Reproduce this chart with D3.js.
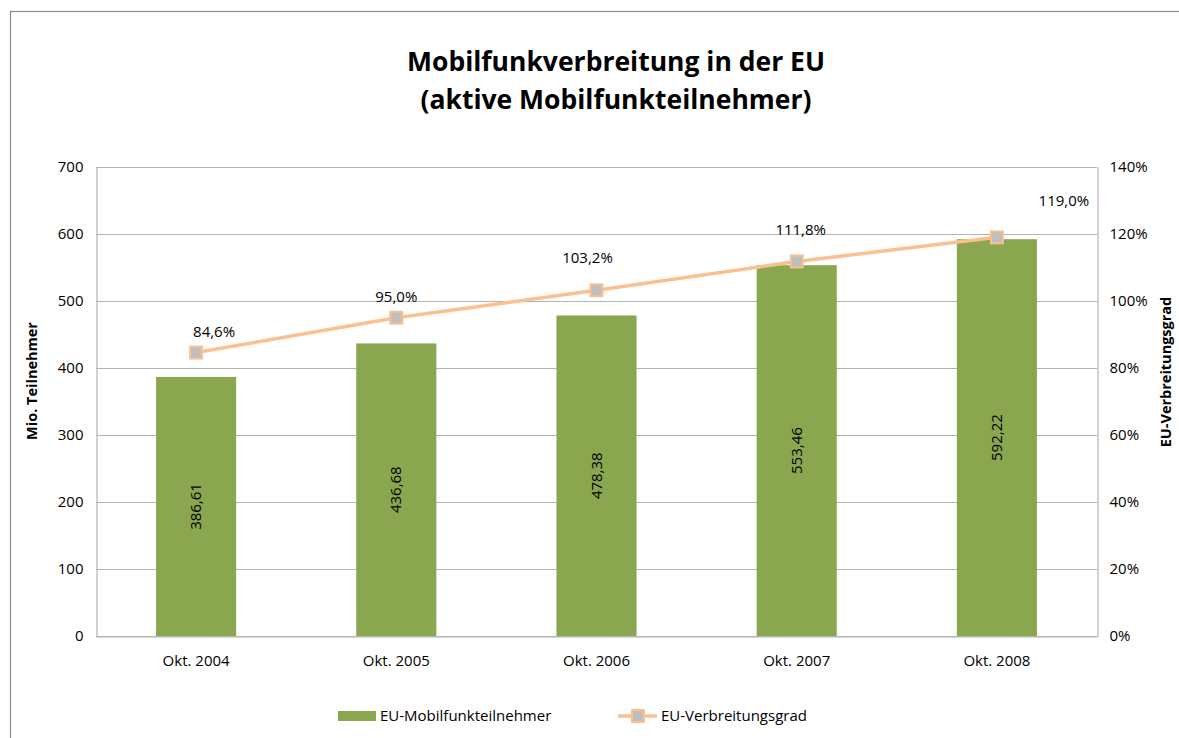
<!DOCTYPE html>
<html><head><meta charset="utf-8">
<script src="https://cdn.jsdelivr.net/npm/d3@7"></script>
<style>
body{margin:0;background:#fff;}
text{font-family:"Open Sans","Lato",sans-serif;fill:#000;}
</style></head>
<body><svg id="c" width="1179" height="738"></svg>
<script>
const categories=["Okt. 2004","Okt. 2005","Okt. 2006","Okt. 2007","Okt. 2008"];
const subscribers=[386.61,436.68,478.38,553.46,592.22];
const penetration=[84.6,95.0,103.2,111.8,119.0];
const leftTicks=[0,100,200,300,400,500,600,700];
const rightTicks=[0,20,40,60,80,100,120,140];
// label placement offsets (style)
const labelDx=[18,0,-9,4,67];
const labelDy=[-21,-21,-33,-32,-37];

const svg=d3.select("#c");
const m={l:96,r:1097,t:167,b:636};
const FS=15;
const fmt=v=>v.toFixed(2).replace(".",",");
const fmtP=v=>v.toFixed(1).replace(".",",")+"%";

svg.append("rect").attr("x",10.5).attr("y",11.5).attr("width",1200).attr("height",800)
  .attr("fill","none").attr("stroke","#8c8c8c").attr("stroke-width",1.2);

const x=d3.scaleBand().domain(categories).range([m.l,m.r]).paddingInner(0.6).paddingOuter(0.3);
const y=d3.scaleLinear().domain([0,700]).range([m.b,m.t]);
const y2=d3.scaleLinear().domain([0,140]).range([m.b,m.t]);

svg.append("g").selectAll("line").data(leftTicks).join("line")
  .attr("x1",m.l).attr("x2",m.r).attr("y1",d=>Math.round(y(d))+0.5).attr("y2",d=>Math.round(y(d))+0.5)
  .attr("stroke","#b3b3b3").attr("stroke-width",1);

const gl=svg.append("g").attr("transform",`translate(${m.l+0.5},0)`)
  .call(d3.axisLeft(y).tickValues(leftTicks).tickSize(0).tickPadding(13));
const gr=svg.append("g").attr("transform",`translate(${m.r+0.5},0)`)
  .call(d3.axisRight(y2).tickValues(rightTicks).tickSize(0).tickPadding(12).tickFormat(d=>d+"%"));
const gb=svg.append("g").attr("transform",`translate(0,${m.b+0.5})`)
  .call(d3.axisBottom(x).tickSize(0).tickPadding(19));
[gl,gr,gb].forEach(g=>{g.select(".domain").attr("stroke","#b3b3b3").attr("stroke-width",1.2);
  g.selectAll("text").attr("font-size",FS).attr("fill","#000").attr("font-family","'Open Sans',sans-serif");});

svg.append("g").selectAll("rect").data(subscribers).join("rect")
  .attr("x",(d,i)=>x(categories[i])).attr("width",x.bandwidth())
  .attr("y",d=>y(d)).attr("height",d=>y(0)-y(d)).attr("fill","#8aa64e");

svg.append("g").selectAll("text").data(subscribers).join("text")
  .attr("transform",(d,i)=>`translate(${x(categories[i])+x.bandwidth()/2+5},${(y(d)+y(0))/2}) rotate(-90)`)
  .attr("text-anchor","middle").attr("font-size",FS).text(d=>fmt(d));

const cx=i=>x(categories[i])+x.bandwidth()/2;
svg.append("path").datum(penetration)
  .attr("d",d3.line().x((d,i)=>cx(i)).y(d=>y2(d)))
  .attr("fill","none").attr("stroke","#fac090").attr("stroke-width",3.5);
svg.append("g").selectAll("rect").data(penetration).join("rect")
  .attr("x",(d,i)=>cx(i)-6).attr("y",d=>y2(d)-6).attr("width",12).attr("height",12)
  .attr("fill","#bfbfbf").attr("stroke","#fac090").attr("stroke-width",2);
svg.append("g").selectAll("text").data(penetration).join("text")
  .attr("x",(d,i)=>cx(i)+labelDx[i]).attr("y",(d,i)=>y2(d)+labelDy[i]).attr("dy","0.35em")
  .attr("text-anchor","middle").attr("font-size",FS).text(d=>fmtP(d));

svg.append("text").attr("x",616).attr("y",71).attr("text-anchor","middle")
  .attr("font-size",26.5).attr("font-weight","bold").text("Mobilfunkverbreitung in der EU");
svg.append("text").attr("x",616).attr("y",109).attr("text-anchor","middle")
  .attr("font-size",26.5).attr("font-weight","bold").text("(aktive Mobilfunkteilnehmer)");

svg.append("text").attr("transform","translate(37,381) rotate(-90)").attr("text-anchor","middle")
  .attr("font-size",14.5).attr("font-weight","bold").text("Mio. Teilnehmer");
svg.append("text").attr("transform","translate(1171,372) rotate(-90)").attr("text-anchor","middle")
  .attr("font-size",14.5).attr("font-weight","bold").text("EU-Verbreitungsgrad");

const lg=svg.append("g");
lg.append("rect").attr("x",338).attr("y",711).attr("width",38).attr("height",10).attr("fill","#8aa64e");
lg.append("text").attr("x",380).attr("y",716).attr("dy","0.35em").attr("font-size",FS).text("EU-Mobilfunkteilnehmer");
lg.append("line").attr("x1",618).attr("x2",657).attr("y1",716).attr("y2",716).attr("stroke","#fac090").attr("stroke-width",3.5);
lg.append("rect").attr("x",632).attr("y",710).attr("width",12).attr("height",12).attr("fill","#bfbfbf").attr("stroke","#fac090").attr("stroke-width",2);
lg.append("text").attr("x",661).attr("y",716).attr("dy","0.35em").attr("font-size",FS).text("EU-Verbreitungsgrad");
</script></body></html>
